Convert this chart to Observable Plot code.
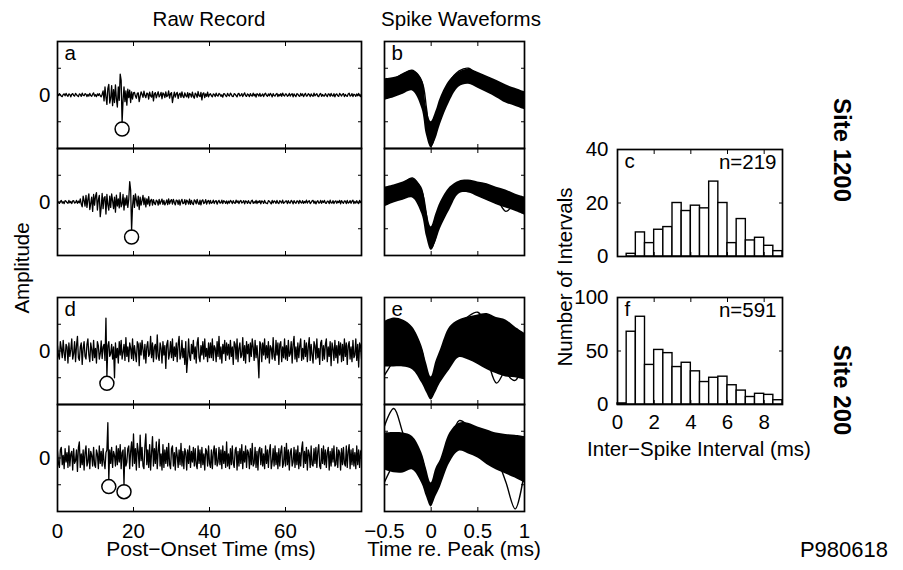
<!DOCTYPE html>
<html><head><meta charset="utf-8">
<script src="https://cdn.jsdelivr.net/npm/d3@7"></script>
<script src="https://cdn.jsdelivr.net/npm/@observablehq/plot@0.6"></script>
<style>
body{margin:0;background:#fff;}
#fig{position:relative;width:903px;height:570px;background:#fff;overflow:hidden;font-family:"Liberation Sans",Arial,Helvetica,sans-serif;}
#labels{position:absolute;left:0;top:0;}
</style></head><body><div id="fig"></div>
<script>
// ---------- DATA ----------
// Raw records: amplitude in hundredths of a tick unit, one sample every 0.25 ms (0..80 ms)
const rawStep = 0.25;
const traceA1 = [3,-2,5,1,-4,-6,2,4,-3,6,-1,-5,4,2,-7,3,5,-2,-4,6,1,-3,-6,4,2,-5,7,-1,-3,5,3,-6,2,-4,6,-2,-5,3,8,-4,1,-6,4,-2,5,-3,-7,3,
 15,-22,30,-8,-35,25,40,-30,-12,35,-40,20,-28,38,-15,-45,30,-20,
 78,55,-103,
 -20,30,-25,15,-38,22,-10,18,-28,12,-15,8,
 10,-4,-12,6,8,-25,-5,12,3,-9,14,-2,-10,7,5,-15,11,-3,-8,13,
 -22,4,9,-11,2,12,-7,-1,10,-14,8,3,-10,12,-6,-2,15,-12,5,9,
 -28,-6,11,-8,4,10,-13,2,7,-9,12,-4,-10,8,-2,-7,9,-11,6,3,
 -8,11,-5,-12,7,2,-9,13,-3,-6,10,-18,5,8,-10,4,-5,11,-7,2,
 5,-3,-7,4,2,-6,7,-2,-4,6,3,-5,1,-8,5,4,-3,-6,6,-1,
 -4,7,2,-5,-6,5,3,-2,-7,4,6,-4,-1,5,-6,2,8,-3,-5,4,
 1,-6,5,-2,-4,7,-3,3,-8,5,2,-4,6,-5,-1,4,-6,3,7,-2,
 -5,4,-3,6,1,-7,5,-2,-4,3,6,-6,2,-3,5,-5,7,-1,-4,4,
 3,-5,-2,6,-4,2,5,-7,4,-1,-6,5,3,-3,-5,6,-2,4,-6,1,
 6,-4,-3,5,2,-6,4,-2,-5,7,-3,1,5,-4,-6,3,6,-5,2,-3,
 -4,5,-1,-6,4,3,-5,6,-2,-4,5,-7,2,4,-3,-5,6,1,-4,3,
 5,-6,2,-3,-5,4,7,-4,-2,5,-6,3,1,-5,4,-3,6,-2,-6,4];
const traceA2 = [4,-3,-5,2,6,-4,1,-6,5,3,-2,-5,6,-3,2,-6,4,5,-4,-2,6,-5,3,-3,
 12,-8,-18,22,5,-15,25,-20,10,30,-28,-5,18,-35,28,-12,22,35,-30,8,
 25,-55,-20,32,-25,15,20,-45,28,-10,-30,22,-20,30,5,-25,18,-38,26,-15,
 12,-22,35,-18,-8,28,-30,15,-12,24,-20,10,
 76,45,-105,
 -15,25,-20,30,8,-15,22,-28,18,-12,5,25,-10,15,-18,12,-8,20,-14,6,10,-12,
 9,-4,-10,7,3,-12,10,-8,2,11,-9,6,-11,-3,8,-10,12,-7,4,9,
 -8,10,-2,-11,7,5,-9,8,-12,3,10,-6,-4,9,-10,7,2,-8,11,-9,
 6,-5,-10,8,4,-7,10,-3,-9,7,-11,5,8,-6,-2,9,-8,3,6,-7,
 6,-5,-2,7,-6,3,5,-8,1,6,-4,-3,7,-6,5,2,-5,4,-7,3,
 -4,6,2,-6,5,-3,-5,7,-2,4,-6,3,6,-4,-1,5,-7,4,2,-5,
 5,-3,-6,4,7,-5,1,-4,6,-6,3,-2,5,-7,4,2,-5,6,-3,-4,
 -6,5,3,-2,-7,6,-4,4,2,-5,6,-3,-6,5,1,-4,7,-5,-2,3,
 4,-6,5,-3,-4,6,2,-7,5,-2,-5,4,3,-6,6,-1,-4,5,-5,2,
 -3,7,-4,2,5,-6,-2,4,6,-5,3,-7,1,5,-4,-3,6,-5,4,-2,
 6,-4,-5,3,2,-6,7,-3,-4,5,-6,2,4,-5,3,-2,6,-7,5,-1,
 -5,4,3,-6,6,-4,-2,5,-5,3,7,-6,2,-4,5,-3,-6,6,-2,4];
const traceD1 = [20,-15,-30,35,10,-25,40,-8,-35,25,15,-45,30,-20,5,45,-30,-10,35,-40,
 20,55,-25,-35,15,30,-50,10,35,-20,-30,25,45,-15,-40,30,5,-35,40,-25,
 10,-45,35,20,-30,-10,38,-28,15,25,-35,
 123,-95,
 20,35,-20,-10,25,-30,15,
 -100,
 30,-25,10,-45,35,-15,40,-30,-5,25,-35,50,-20,15,-40,30,10,-28,45,-35,
 20,-10,-40,35,25,-55,30,-15,40,5,-30,25,-45,15,35,-20,-10,55,-25,30,
 -40,15,25,-30,60,-20,-35,30,10,-45,35,-15,20,-65,25,40,-30,-10,35,-25,
 45,-35,15,-20,30,-40,25,55,-30,-15,40,-25,10,-50,35,-80,-30,45,-20,-35,
 25,-10,40,-30,15,-45,30,50,-25,-40,20,-15,35,-30,45,-20,10,-40,30,-25,
 30,-25,45,-35,20,10,-40,35,-20,55,-30,15,-45,25,-10,40,-35,30,-15,25,
 -30,40,-20,15,-50,35,25,-30,45,-40,10,30,-25,-15,50,-35,20,-45,35,-10,
 25,-40,30,-20,45,15,-35,40,-25,20,-30,-100,35,25,-40,30,-15,45,-30,20,
 -25,35,-45,20,10,-30,50,-20,-35,40,-15,30,-50,25,35,-40,15,-25,45,-30,
 20,-35,40,-20,-10,35,-45,25,55,-30,15,-40,30,-25,20,45,-35,10,-30,40,
 -20,30,-40,15,50,-35,25,-15,-45,35,20,-30,45,-25,10,-50,30,40,-35,20,
 -30,25,45,-40,15,-20,35,-55,30,10,-35,40,-25,20,-45,35,-15,30,-40,25,
 -35,45,-20,30,-50,20,35,-30,15,-40,40,-25,-15,45,-35,25,-60,30,20,-30];
const traceD2 = [25,-20,-35,30,40,-25,10,-40,35,-15,20,-35,45,-30,15,25,-45,35,-20,-10,
 30,-50,40,60,-35,15,-25,30,-45,20,45,-30,-15,35,-40,25,10,-30,40,-25,
 -35,30,15,-40,45,-20,25,-30,35,-15,-40,20,30,
 132,-81,
 30,-20,40,-35,25,10,-30,45,-25,35,-15,50,-40,20,30,
 -100,
 40,-30,-15,35,45,-40,25,60,-30,90,-20,35,-45,55,25,-35,85,-10,40,-30,
 -40,45,90,-25,30,-35,50,-45,20,80,-30,35,-20,60,-40,25,70,-30,15,-45,
 50,-35,30,-20,40,-30,55,-25,-40,35,45,-30,20,-45,40,10,-35,30,-25,55,
 -30,25,-40,35,20,-45,30,-20,45,-35,25,-15,40,-30,35,-25,-40,45,-20,30,
 -35,40,-25,15,-45,35,25,-30,45,-20,-35,30,-40,20,45,-25,35,-30,-15,40,
 -25,30,-40,45,-20,25,-35,60,-30,15,-40,35,-25,45,-20,-35,30,40,-45,25,
 -30,35,-20,50,-40,25,-15,45,-35,30,20,-40,35,-25,55,-30,-20,40,-35,25,
 -45,30,40,-25,35,-30,15,-40,45,-20,30,-35,25,50,-40,-15,35,-30,45,-25,
 20,-40,35,-30,25,45,-35,-20,40,-30,55,-25,30,-45,20,35,-30,-15,40,-35,
 30,-25,45,-40,20,-30,35,60,-35,25,-20,40,-45,30,15,-35,45,-25,-30,35,
 -20,40,-35,25,50,-30,-40,35,-20,45,-25,30,-35,20,40,-45,25,-30,35,-15,
 45,-30,-25,40,-35,30,20,-45,35,-25,40,-20,-30,45,-35,25,50,-40,30,-25,
 35,-30,20,-40,45,-25,30,-35,25,30];
// detected spikes (circle markers): time (ms) and amplitude
const spikeA1T = [17],         spikeA1Y = [-1.27];
const spikeA2T = [19.5],       spikeA2Y = [-1.31];
const spikeD1T = [13],         spikeD1Y = [-1.21];
const spikeD2T = [13.5, 17.5], spikeD2Y = [-1.07, -1.26];

// Spike waveforms: envelope of overlaid waveforms (upper / lower) plus a few outlying waveforms
const wfTimes = [-0.5,-0.4,-0.3,-0.2,-0.1,-0.05,0,0.05,0.1,0.2,0.3,0.4,0.5,0.6,0.7,0.8,0.9,1.0];
const b1Upper = [0.60,0.65,0.78,0.93,0.60,-0.45,-1.00,-0.62,-0.10,0.55,0.85,0.96,0.85,0.70,0.55,0.38,0.25,0.12];
const b1Lower = [-0.20,-0.10,0.03,0.15,-0.50,-1.50,-1.97,-1.65,-1.10,-0.25,0.30,0.40,0.25,0.08,-0.10,-0.30,-0.42,-0.55];
const b2Upper = [0.56,0.64,0.75,0.88,0.55,-0.30,-0.93,-0.45,0.00,0.55,0.78,0.82,0.75,0.68,0.55,0.45,0.30,0.19];
const b2Lower = [-0.19,-0.04,0.07,0.15,-0.45,-1.30,-1.80,-1.50,-1.00,-0.30,0.30,0.34,0.20,0.05,-0.10,-0.22,-0.35,-0.49];
const e1Upper = [1.10,1.23,1.16,0.90,0.20,-0.45,-0.97,-0.40,0.05,0.90,1.16,1.27,1.35,1.40,1.25,1.16,0.90,0.67];
const e1Lower = [-0.60,-0.60,-0.60,-0.70,-1.20,-1.55,-1.83,-1.55,-1.20,-0.70,-0.25,-0.34,-0.50,-0.70,-0.85,-0.97,-1.00,-1.08];
const e2Upper = [0.93,0.95,0.93,0.80,0.20,-0.40,-0.93,-0.40,-0.07,0.93,1.30,1.30,1.16,1.05,0.93,0.88,0.85,0.80];
const e2Lower = [-0.45,-0.55,-0.56,-0.45,-0.95,-1.45,-1.83,-1.45,-1.08,-0.19,0.25,0.15,0.00,-0.25,-0.45,-0.60,-0.75,-0.93];
const b1Outliers = [[0.5,0.6,0.8,0.9,0.5,-0.5,-1.9,-1.4,-0.5,0.5,0.9,1.0,0.7,0.3,0.45,0.15,0.0,-0.5]];
const b2Outliers = [[0.3,0.5,0.7,0.9,0.4,-0.5,-1.75,-1.3,-0.4,0.4,0.75,0.7,0.35,0.2,0.1,-0.35,-0.1,-0.3]];
const e1Outliers = [[0.2,0.9,1.1,0.8,0.0,-0.8,-1.4,-0.9,-0.3,0.6,1.1,1.0,0.5,-0.3,-1.2,-0.6,0.3,0.6],
                    [-0.9,-0.3,0.8,0.6,-0.2,-1.0,-1.6,-1.1,-0.4,0.4,0.9,1.3,1.45,0.9,0.1,-0.8,-1.1,-0.2]];
const e2Outliers = [[1.2,1.85,0.9,0.0,-0.3,-0.9,-1.5,-1.0,-0.3,0.7,1.1,1.0,0.8,0.5,0.0,-0.9,-1.9,-0.5],
                    [-0.9,-0.2,0.3,0.6,0.0,-0.7,-1.4,-0.9,-0.2,0.5,1.4,1.2,0.8,0.2,-0.2,0.6,0.4,-0.3]];

// Inter-spike interval histograms, 0.5 ms bins from 0 to 9 ms
const binWidth = 0.5;
const countsC = [0,1,9,5,10,11,20,17,19,18,28,20,5,14,6,7,4,2];
const countsF = [1,68,82,37,51,48,35,39,31,21,25,26,18,13,7,10,9,4];
const nC = "n=219", nF = "n=591";

// Tick values / labels
const ampTicks = [-1,0,1];
const rawXTicks = [0,20,40,60,80];
const rawXLabels = [0,20,40,60];
const wfXTicks = [-0.5,0,0.5,1];
const histXTicks = [0,2,4,6,8];
const histCYTicks = [0,20,40];
const histFYTicks = [0,50,100];

// ---------- DRAWING ----------
const fig = document.getElementById("fig");
const FONT = '"Liberation Sans", Arial, Helvetica, sans-serif';
const rawTimes = traceA1.map((d,i)=>i*rawStep);
const fmtNum = d => d < 0 ? "\u2212" + (-d) : String(d);

// overlay text labels
const NS = "http://www.w3.org/2000/svg";
const lab = document.createElementNS(NS,"svg");
lab.setAttribute("id","labels"); lab.setAttribute("width",903); lab.setAttribute("height",570);
fig.appendChild(lab);
function addText(txt, x, y, {anchor="middle", size=20, weight="normal", rotate=0}={}) {
  const t = document.createElementNS(NS,"text");
  t.textContent = txt;
  t.setAttribute("text-anchor", anchor);
  t.setAttribute("font-size", size);
  t.setAttribute("font-weight", weight);
  t.setAttribute("font-family", FONT);
  t.setAttribute("transform", `translate(${x},${y}) rotate(${rotate})`);
  lab.appendChild(t);
}
addText("Raw Record", 209, 26, {size:20.5});
addText("Spike Waveforms", 461, 26, {size:20.5});
addText("Amplitude", 29, 268, {rotate:-90, size:20.5});
addText("Post\u2212Onset Time (ms)", 211, 556, {size:21});
addText("Time re. Peak (ms)", 454, 556, {size:20.5});
addText("Number of Intervals", 572, 277, {rotate:-90, size:20.5});
addText("Inter\u2212Spike Interval (ms)", 699, 456, {size:20.5});
addText("Site 1200", 834, 150, {rotate:90, size:24, weight:"bold"});
addText("Site 200", 834, 390, {rotate:90, size:24, weight:"bold"});
addText("P980618", 888, 557, {anchor:"end", size:22});

function place(svg, left, top) {
  svg.style.position = "absolute";
  svg.style.left = left + "px";
  svg.style.top = top + "px";
  fig.appendChild(svg);
}
function boxTicks(xTicks, yTicks) {
  return [
    Plot.axisX({anchor:"bottom", ticks:xTicks, tickSize:-4, tickFormat:()=>"", label:null}),
    Plot.axisX({anchor:"top", ticks:xTicks, tickSize:-4, tickFormat:()=>"", label:null}),
    Plot.axisY({anchor:"left", ticks:yTicks, tickSize:-4, tickFormat:()=>"", label:null}),
    Plot.axisY({anchor:"right", ticks:yTicks, tickSize:-4, tickFormat:()=>"", label:null}),
    Plot.frame({stroke:"black", strokeWidth:1.7})
  ];
}
function makePlot(w, h, xd, yd, marks) {
  return Plot.plot({
    width:w, height:h, marginTop:0, marginRight:0, marginBottom:0, marginLeft:0,
    x:{domain:xd}, y:{domain:yd},
    style:{background:"transparent", overflow:"visible", fontFamily:FONT, fontSize:"20px", color:"black"},
    marks
  });
}
function letterMark(l) {
  return Plot.text([l], {text:d=>d, frameAnchor:"top-left", textAnchor:"start", lineAnchor:"top", dx:7, dy:4, fontSize:20.5, fill:"black"});
}

function rawPanel(trace, spT, spY, left, top, letter, showX) {
  const marks = [
    Plot.lineY(trace, {x:(d,i)=>rawTimes[i], y:d=>d/100, stroke:"black", strokeWidth:1.3, clip:true}),
    Plot.dot(spT, {x:d=>d, y:(d,i)=>spY[i], r:7, stroke:"black", strokeWidth:1.5, fill:"none"}),
    ...boxTicks(rawXTicks, ampTicks),
    Plot.axisY({anchor:"left", ticks:[0], tickSize:0, tickPadding:7, fontSize:20.5, tickFormat:fmtNum, label:null})
  ];
  if (letter) marks.push(letterMark(letter));
  if (showX) marks.push(Plot.axisX({anchor:"bottom", ticks:rawXLabels, tickSize:0, tickPadding:12, fontSize:20.5, tickFormat:fmtNum, label:null}));
  place(makePlot(304, 107, [0,80], [-2,2], marks), left, top);
}
function wavePanel(upper, lower, outliers, left, top, letter, showX) {
  const marks = [
    Plot.areaY(wfTimes, {x:d=>d, y1:(d,i)=>lower[i], y2:(d,i)=>upper[i], fill:"black", curve:"catmull-rom", clip:true}),
    ...outliers.map(o => Plot.lineY(o, {x:(d,i)=>wfTimes[i], y:d=>d, stroke:"black", strokeWidth:1.4, curve:"catmull-rom", clip:true})),
    ...boxTicks(wfXTicks, ampTicks)
  ];
  if (letter) marks.push(letterMark(letter));
  if (showX) marks.push(Plot.axisX({anchor:"bottom", ticks:wfXTicks, tickSize:0, tickPadding:12, fontSize:20.5, tickFormat:fmtNum, label:null}));
  place(makePlot(140, 107, [-0.5,1], [-2,2], marks), left, top);
}
function histPanel(counts, top, yMax, yTicks, letter, nLabel, showX) {
  const marks = [
    Plot.rect(counts, {x1:(d,i)=>i*binWidth, x2:(d,i)=>(i+1)*binWidth, y1:0, y2:d=>d, fill:"white", stroke:"black", strokeWidth:1.4}),
    ...boxTicks(histXTicks, yTicks),
    Plot.axisY({anchor:"left", ticks:yTicks, tickSize:0, tickPadding:9, fontSize:20.5, tickFormat:fmtNum, label:null}),
    letterMark(letter),
    Plot.text([nLabel], {text:d=>d, frameAnchor:"top-right", textAnchor:"end", lineAnchor:"top", dx:-6, dy:5, fontSize:20.5, fill:"black"})
  ];
  if (showX) marks.push(Plot.axisX({anchor:"bottom", ticks:histXTicks, tickSize:0, tickPadding:10, fontSize:20.5, tickFormat:fmtNum, label:null}));
  place(makePlot(165, 107, [0,9], [0,yMax], marks), 617, top);
}

rawPanel(traceA1, spikeA1T, spikeA1Y, 57, 41, "a", false);
rawPanel(traceA2, spikeA2T, spikeA2Y, 57, 148, null, false);
rawPanel(traceD1, spikeD1T, spikeD1Y, 57, 297, "d", false);
rawPanel(traceD2, spikeD2T, spikeD2Y, 57, 404, null, true);
wavePanel(b1Upper, b1Lower, b1Outliers, 384, 41, "b", false);
wavePanel(b2Upper, b2Lower, b2Outliers, 384, 148, null, false);
wavePanel(e1Upper, e1Lower, e1Outliers, 384, 297, "e", false);
wavePanel(e2Upper, e2Lower, e2Outliers, 384, 404, null, true);
histPanel(countsC, 149, 40, histCYTicks, "c", nC, false);
histPanel(countsF, 297, 100, histFYTicks, "f", nF, true);
</script>
</body></html>
